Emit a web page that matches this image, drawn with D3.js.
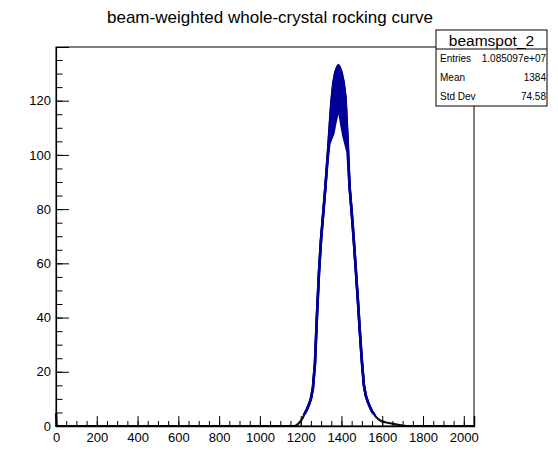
<html>
<head>
<meta charset="utf-8">
<title>beam-weighted whole-crystal rocking curve</title>
<script src="https://d3js.org/d3.v7.min.js"></script>
<style>
body { margin: 0; background: #fff; }
svg { font-family: "Liberation Sans", Arial, sans-serif; }
</style>
</head>
<body>
<script>

// bin centres
var angle = [0, 3, 1170, 1180, 1190, 1200, 1210, 1220, 1230, 1240, 1250, 1260, 1270, 1280, 1290,
  1300, 1310, 1320, 1330, 1340, 1350, 1360, 1370, 1380, 1385, 1390, 1400, 1410, 1420, 1430,
  1440, 1450, 1460, 1470, 1480, 1490, 1500, 1510, 1520, 1530, 1540, 1550, 1560, 1570, 1580,
  1590, 1600, 1620, 1640, 1660, 1680, 1700, 1720, 2050];
// upper edge of the (noisy) histogram
var countHi = [4.7, 0, 0, 0.3, 1, 1.8, 3, 4.6, 6, 7.8, 10, 14, 23, 41, 57,
  69, 78, 87, 97, 108, 119, 126.5, 130.5, 132.5, 133, 132.5, 130.5, 127, 121, 106,
  88, 79, 69, 58, 47, 35, 24, 15, 11, 8.8, 7, 5.4, 4.3, 3.3, 2.6,
  2, 1.7, 1.3, 1, 0.7, 0.4, 0.15, 0, 0];
// lower edge (only differs near the peak)
var countLo = [4.7, 0, 0, 0.3, 1, 1.8, 3, 4.6, 6, 7.8, 10, 14, 23, 41, 57,
  69, 78, 87, 97, 104, 106, 108, 112, 115.5, 116.5, 115.5, 111, 107, 104, 101,
  88, 79, 69, 58, 47, 35, 24, 15, 11, 8.8, 7, 5.4, 4.3, 3.3, 2.6,
  2, 1.7, 1.3, 1, 0.7, 0.4, 0.15, 0, 0];

var xTicks = [0, 200, 400, 600, 800, 1000, 1200, 1400, 1600, 1800, 2000];
var yTicks = [0, 20, 40, 60, 80, 100, 120];

var statNames = ["Entries", "Mean", "Std Dev"];
var statValues = ["1.085097e+07", "1384", "74.58"];

var W = 558, H = 474;
var margin = {top: 47, right: 84, bottom: 48, left: 56};
var width = W - margin.left - margin.right,
    height = H - margin.top - margin.bottom;
var blue = "#000099";

var svg = d3.select("body").append("svg")
    .attr("width", W)
    .attr("height", H);

svg.append("text")
    .attr("x", 270).attr("y", 23)
    .attr("text-anchor", "middle")
    .style("font-size", "17px")
    .text("beam-weighted whole-crystal rocking curve");

var g = svg.append("g")
    .attr("transform", "translate(" + margin.left + "," + margin.top + ")");

var x = d3.scaleLinear().domain([0, 2050]).range([0, width]);
var y = d3.scaleLinear().domain([0, 139.8]).range([height, 0]);

var data = angle.map(function(a, i) { return {a: a, hi: countHi[i], lo: countLo[i]}; });

g.append("clipPath").attr("id", "upper")
  .append("rect")
    .attr("x", 0).attr("y", 0)
    .attr("width", width).attr("height", y(4.2));

var lineHi = d3.line().x(function(d) { return x(d.a); }).y(function(d) { return y(d.hi); });
var lineLo = d3.line().x(function(d) { return x(d.a); }).y(function(d) { return y(d.lo); });
var band = d3.area()
    .x(function(d) { return x(d.a); })
    .y0(function(d) { return y(d.lo); })
    .y1(function(d) { return y(d.hi); });

// dark foot of the curve
g.append("path").datum(data)
    .attr("d", lineHi)
    .attr("fill", "none").attr("stroke", "#111").attr("stroke-width", 2.2);

var up = g.append("g").attr("clip-path", "url(#upper)");
up.append("path").datum(data)
    .attr("d", band)
    .attr("fill", blue);
up.append("path").datum(data)
    .attr("d", lineHi)
    .attr("fill", "none").attr("stroke", blue).attr("stroke-width", 2.6)
    .attr("stroke-linejoin", "round");
up.append("path").datum(data)
    .attr("d", lineLo)
    .attr("fill", "none").attr("stroke", blue).attr("stroke-width", 2.6)
    .attr("stroke-linejoin", "round");

// frame
g.append("rect")
    .attr("width", width).attr("height", height)
    .attr("fill", "none").attr("stroke", "#000").attr("stroke-width", 1);

// x axis (ticks pointing inward)
g.append("g")
    .attr("transform", "translate(0," + height + ")")
    .call(d3.axisBottom(x).tickValues(d3.range(0, 2051, 50)).tickSize(-5).tickFormat(""))
    .call(function(s) { s.select(".domain").remove(); });
g.append("g")
    .attr("class", "xaxis")
    .attr("transform", "translate(0," + height + ")")
    .call(d3.axisBottom(x).tickValues(xTicks).tickSize(-10).tickPadding(7).tickFormat(d3.format("d")))
    .call(function(s) { s.select(".domain").attr("stroke-width", 1.5); });

// y axis
g.append("g")
    .call(d3.axisLeft(y).tickValues(d3.range(0, 136, 5)).tickSize(-6.5).tickFormat(""))
    .call(function(s) { s.select(".domain").remove(); });
g.append("g")
    .call(d3.axisLeft(y).tickValues(yTicks).tickSize(-13).tickPadding(5).tickFormat(d3.format("d")))
    .call(function(s) { s.select(".domain").attr("stroke-width", 1.2); });

g.selectAll(".tick text").style("font-size", "13px").attr("fill", "#000")
    .style("font-family", "'Liberation Sans', Arial, sans-serif");
g.selectAll(".tick line").attr("stroke", "#000");

// stats box
var bx = 436, by = 30, bw = 111, bh = 76, th = 19;
var box = svg.append("g");
box.append("rect")
    .attr("x", bx).attr("y", by).attr("width", bw).attr("height", bh)
    .attr("fill", "#fff").attr("stroke", "#000").attr("stroke-width", 1);
box.append("line")
    .attr("x1", bx).attr("x2", bx + bw).attr("y1", by + th).attr("y2", by + th)
    .attr("stroke", "#000");
box.append("text")
    .attr("x", bx + bw / 2).attr("y", by + 15.5)
    .attr("text-anchor", "middle")
    .style("font-size", "15.5px")
    .text("beamspot_2");
var rowH = (bh - th) / statNames.length;
statNames.forEach(function(n, i) {
  var yy = by + th + rowH * i + rowH / 2 + 3.5;
  box.append("text").attr("x", bx + 4).attr("y", yy)
      .style("font-size", "10px").text(n);
  box.append("text").attr("x", bx + bw - 1).attr("y", yy)
      .attr("text-anchor", "end")
      .style("font-size", "10px").text(statValues[i]);
});

</script>
</body>
</html>
